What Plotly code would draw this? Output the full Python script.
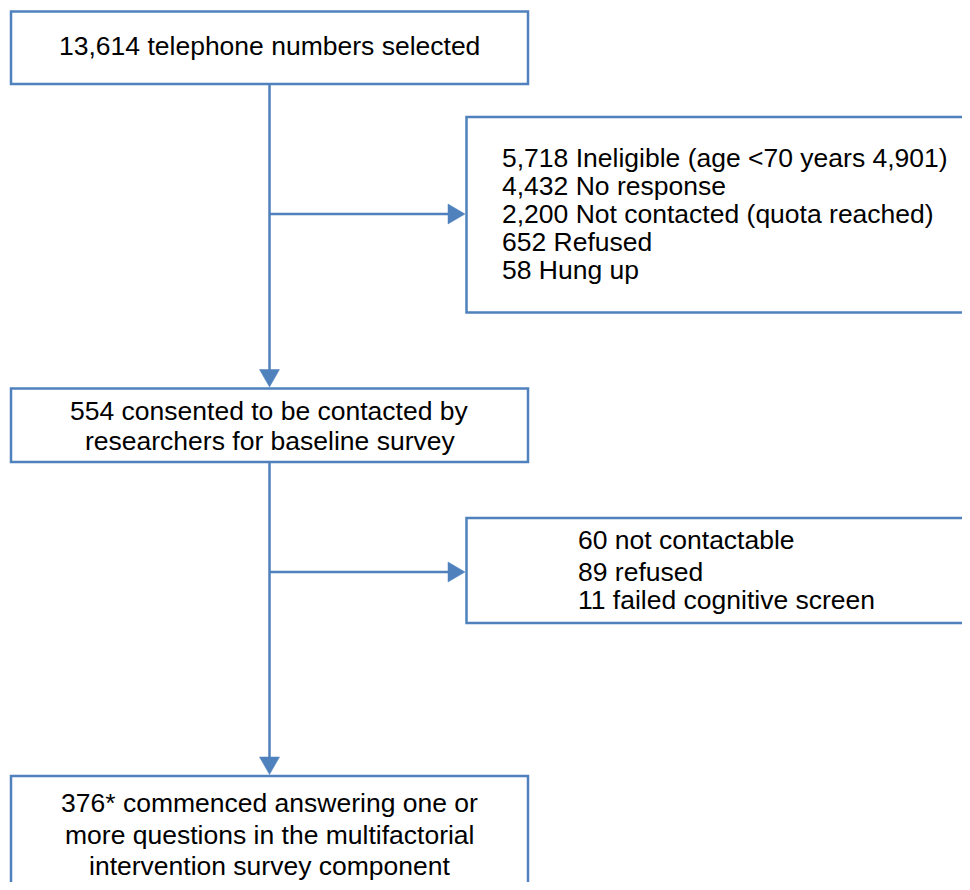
import plotly.graph_objects as go

# ---- data (flowchart contents) ----
main_labels = [
    "13,614 telephone numbers selected",
    "554 consented to be contacted by<br>researchers for baseline survey",
    "376* commenced answering one or<br>more questions in the multifactorial<br>intervention survey component",
]
excl1_counts = ["5,718", "4,432", "2,200", "652", "58"]
excl1_reasons = ["Ineligible (age <70 years 4,901)", "No response",
                 "Not contacted (quota reached)", "Refused", "Hung up"]
excl2_counts = ["60", "89", "11"]
excl2_reasons = ["not contactable", "refused", "failed cognitive screen"]

# ---- layout geometry (page pixel coordinates, y downward) ----
PAGE_W, PAGE_H = 970, 890
BODY_MARGIN = 8  # default HTML body margin
W, H = PAGE_W - 2 * BODY_MARGIN, PAGE_H - 2 * BODY_MARGIN
BLUE = "rgb(79,129,189)"
LW = 2.5
FONT = dict(family="Liberation Sans, Arial, sans-serif", size=26.5, color="black")

main_boxes = [(11, 11.5, 528, 84), (11, 388.5, 528, 462), (11, 776, 528, 900)]
main_line_y = [[46], [411, 441], [803, 835, 866]]
excl_boxes = [(466.5, 117, 985, 312.5), (466.5, 518, 985, 623)]
excl_text_x = [500, 576]
excl_line_y = [[157.5, 185.5, 213.5, 241.5, 269.5], [540, 572, 600]]
branch_y = [214, 572]
spine_x = 269.5

fig = go.Figure()
shapes = []
annotations = []

for (x0, y0, x1, y1) in main_boxes + excl_boxes:
    shapes.append(dict(type="rect", x0=x0, y0=y0, x1=x1, y1=y1, xref="x", yref="y",
                       line=dict(color=BLUE, width=LW), fillcolor="white", layer="above"))

# vertical connectors with arrowheads
for i in range(len(main_boxes) - 1):
    ytop = main_boxes[i][3]
    ybot = main_boxes[i + 1][1]
    shapes.append(dict(type="line", x0=spine_x, y0=ytop, x1=spine_x, y1=ybot - 15,
                       xref="x", yref="y", line=dict(color=BLUE, width=LW)))
    shapes.append(dict(type="path",
                       path=f"M {spine_x-10},{ybot-19} L {spine_x+10},{ybot-19} L {spine_x},{ybot-1.5} Z",
                       xref="x", yref="y", fillcolor=BLUE, line=dict(color=BLUE, width=0.5)))

# horizontal branches with arrowheads
for j, by in enumerate(branch_y):
    xb = excl_boxes[j][0]
    shapes.append(dict(type="line", x0=spine_x, y0=by, x1=xb - 14, y1=by,
                       xref="x", yref="y", line=dict(color=BLUE, width=LW)))
    shapes.append(dict(type="path",
                       path=f"M {xb-18.5},{by-10} L {xb-18.5},{by+10} L {xb-1.5},{by} Z",
                       xref="x", yref="y", fillcolor=BLUE, line=dict(color=BLUE, width=0.5)))

for lbl, (x0, y0, x1, y1), ys in zip(main_labels, main_boxes, main_line_y):
    for line_txt, ly in zip(lbl.split("<br>"), ys):
        annotations.append(dict(x=(x0 + x1) / 2, y=ly, xref="x", yref="y", text=line_txt,
                                showarrow=False, font=FONT, align="center",
                                xanchor="center", yanchor="middle"))

for j, (counts, reasons) in enumerate([(excl1_counts, excl1_reasons), (excl2_counts, excl2_reasons)]):
    for c, r, ly in zip(counts, reasons, excl_line_y[j]):
        annotations.append(dict(x=excl_text_x[j], y=ly, xref="x", yref="y", text=f"{c} {r}",
                                showarrow=False, font=FONT, align="left",
                                xanchor="left", yanchor="middle"))

fig.update_layout(
    width=W, height=H, margin=dict(l=0, r=0, t=0, b=0),
    paper_bgcolor="white", plot_bgcolor="white",
    xaxis=dict(range=[BODY_MARGIN, BODY_MARGIN + W], visible=False, fixedrange=True),
    yaxis=dict(range=[BODY_MARGIN + H, BODY_MARGIN], visible=False, fixedrange=True),
    shapes=shapes, annotations=annotations, showlegend=False,
)

fig.write_html("out.html")
